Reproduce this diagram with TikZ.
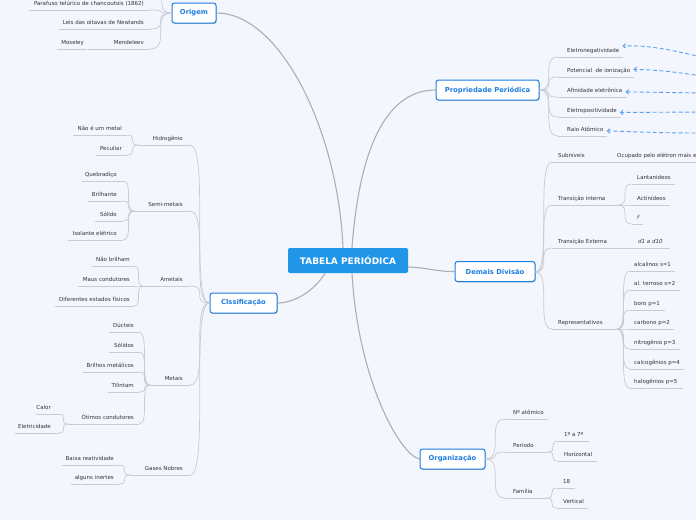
\documentclass[tikz,border=0pt]{standalone}
\usepackage{fontspec}
\setmainfont{DejaVu Sans}
\usetikzlibrary{calc,arrows.meta,shadows}
\definecolor{bgc}{RGB}{243,246,253}
\definecolor{edgeA}{RGB}{172,175,186}
\definecolor{edgeB}{RGB}{200,202,212}
\definecolor{blueA}{RGB}{30,125,225}
\definecolor{mainfill}{RGB}{33,150,232}
\definecolor{dashblue}{RGB}{90,160,240}
\definecolor{leaftext}{RGB}{50,50,58}
\tikzset{
  leaf/.style={inner sep=0pt,text=leaftext,font=\fontsize{5.5}{6.6}\selectfont},
  uline/.style={draw=edgeB,line width=0.7pt},
  e1/.style={draw=edgeA,line width=1.1pt},
  e2/.style={draw=edgeB,line width=0.7pt},
  cv/.style={to path={let \p1=(\tikztostart),\p2=(\tikztotarget) in .. controls (\x2,\y1) and (\x1,\y2) .. (\tikztotarget)}},
  lone/.style={draw=blueA,line width=1pt,fill=white,rounded corners=2.5pt,text=blueA,
    font=\bfseries\fontsize{6.8}{8}\selectfont,minimum height=20pt,inner xsep=2pt,
    drop shadow={shadow xshift=0.6pt,shadow yshift=-0.9pt,opacity=0.25,fill=black}},
  mainbox/.style={fill=mainfill,rounded corners=2pt,text=white,
    font=\bfseries\fontsize{9}{11}\selectfont,minimum width=120pt,minimum height=25pt},
  darrow/.style={draw=dashblue,line width=0.9pt,dash pattern=on 4pt off 2.5pt,-{Straight Barb[length=2.5pt,width=4.5pt]}}
}
\newcommand\mmR[6]{%
  \node[leaf,anchor=base west] (#1) at (#2,#3-4.5) {#6};
  \coordinate (#1-a) at (#4,#3);
  \coordinate (#1-b) at (#5,#3);
  \draw[uline] (#1-a) -- (#1-b);}
\newcommand\mmL[6]{%
  \node[leaf,anchor=base east] (#1) at (#2,#3-4.5) {#6};
  \coordinate (#1-a) at (#4,#3);
  \coordinate (#1-b) at (#5,#3);
  \draw[uline] (#1-a) -- (#1-b);}
\begin{document}
\begin{tikzpicture}[x=1pt,y=-1pt]
\useasboundingbox (0,0) rectangle (696,520);
\fill[bgc] (0,0) rectangle (696,520);
\begin{scope}
\clip (0,0) rectangle (696,520);

% ---------- main and first level nodes
\node[mainbox] (main) at (348,260.5) {TABELA PERIÓDICA};
\node[lone,minimum width=44pt] (og) at (194,13) {Origem};
\node[lone,minimum width=103pt] (pp) at (487.5,90) {Propriedade Periódica};
\node[lone,minimum width=80pt] (dd) at (495,271.5) {Demais Divisão};
\node[lone,minimum width=65pt] (org) at (452.5,459) {Organização};
\node[lone,minimum width=67pt] (cl) at (243.5,303) {Clssificação};

% ---------- first level connectors
\draw[e1] ([xshift=-5pt]main.north) .. controls (338,130) and (280,13) .. (og.east);
\draw[e1] ([xshift=4pt]main.north) .. controls (360,140) and (390,90) .. (pp.west);
\draw[e1] ([yshift=-6.5pt]main.east) .. controls (430,268) and (435,271.5) .. (dd.west);
\draw[e1] ([xshift=4pt]main.south) .. controls (358,380) and (400,455) .. (org.west);
\draw[e1] ([xshift=-23pt]main.south) .. controls (315,290) and (295,303) .. (cl.east);

% ---------- Origem
\mmL{og1}{144}{10}{29}{150}{Parafuso telúrico de chancoutois (1862)}
\mmL{og2}{144}{29}{59}{150}{Leis das oitavas de Newlands}
\mmL{og3}{144}{49}{88}{150}{Mendeleev}
\mmL{og3a}{84}{49}{57}{87}{Moseley}
\coordinate (ogup) at (152,-14);
\foreach \c in {og1-b,og2-b,og3-b,ogup} \draw[e2] (og.west) to[cv] (\c);

% ---------- Propriedade Periódica
\mmR{pe1}{567}{57}{558}{623}{Eletronegatividade}
\mmR{pe2}{567}{77}{558}{634}{Potencial\ \ de ionização}
\mmR{pe3}{567}{97}{558}{627}{Afinidade eletrônica}
\mmR{pe4}{567}{117}{558}{621}{Eletropositividade}
\mmR{pe5}{567}{136}{558}{607}{Raio Atômico}
\foreach \c in {pe1-a,pe2-a,pe3-a,pe4-a,pe5-a} \draw[e2] (pp.east) to[cv] (\c);
\coordinate (s1) at (702,57);
\coordinate (s2) at (702,76);
\coordinate (s3) at (702,93);
\coordinate (s4) at (702,112);
\coordinate (s5) at (702,133);
\draw[darrow] (s1) .. controls (670,50) and (650,45) .. ([xshift=3pt,yshift=5pt]pe1.east);
\draw[darrow] (s2) .. controls (675,72) and (660,70) .. ([xshift=3pt,yshift=1.5pt]pe2.east);
\draw[darrow] (s3) -- ([xshift=3pt,yshift=-1.5pt]pe3.east);
\draw[darrow] (s4) -- ([xshift=3pt,yshift=-1.5pt]pe4.east);
\draw[darrow] (s5) .. controls (660,133) and (640,132) .. ([xshift=3pt,yshift=-1.5pt]pe5.east);

% ---------- Demais Divisão
\mmR{dd1}{558}{162}{552}{603}{Subníveis}
\mmR{dd1a}{617}{162}{603}{720}{Ocupado pelo elétron mais e}
\mmR{dd2}{558}{205}{552}{618}{Transição interna}
\mmR{dd2a}{637}{184}{632}{675}{Lantanídeos}
\mmR{dd2b}{637}{205}{632}{670}{Actinídeos}
\mmR{dd2c}{637}{224}{632}{643}{\itshape f}
\mmR{dd3}{558}{248}{552}{622}{Transição Externa}
\mmR{dd3a}{638}{248}{622}{670}{\itshape d1 a d10}
\mmR{dd4}{558}{329}{552}{617}{Representativos}
\mmR{rp1}{634}{271}{630}{675}{alcalinos s=1}
\mmR{rp2}{634}{290}{630}{680}{al. terroso s=2}
\mmR{rp3}{634}{310}{630}{665}{boro p=1}
\mmR{rp4}{634}{329}{630}{674}{carbono p=2}
\mmR{rp5}{634}{349}{630}{680}{nitrogênio p=3}
\mmR{rp6}{634}{369}{630}{684}{calcogênios p=4}
\mmR{rp7}{634}{388}{630}{683}{halogênios p=5}
\foreach \c in {dd1-a,dd2-a,dd3-a,dd4-a} \draw[e2] ([yshift=-0.5pt]dd.east) to[cv] (\c);
\draw[e2] (dd1-b) -- (dd1a-a);
\draw[e2] (dd3-b) -- (dd3a-a);
\foreach \c in {dd2a-a,dd2b-a,dd2c-a} \draw[e2] (dd2-b) to[cv] (\c);
\foreach \c in {rp1-a,rp2-a,rp3-a,rp4-a,rp5-a,rp6-a,rp7-a} \draw[e2] (dd4-b) to[cv] (\c);

% ---------- Organização
\mmR{or1}{513}{419}{505}{548}{Nº atômico}
\mmR{or2}{513}{452}{505}{548}{Período}
\mmR{or2a}{564}{441}{558}{589}{1º a 7º}
\mmR{or2b}{564}{461}{558}{597}{Horizontal}
\mmR{or3}{513}{498}{505}{547}{Família}
\mmR{or3a}{563}{488}{557}{575}{18}
\mmR{or3b}{563}{508}{557}{588}{Vertical}
\foreach \c in {or1-a,or2-a,or3-a} \draw[e2] (org.east) to[cv] (\c);
\foreach \c in {or2a-a,or2b-a} \draw[e2] (or2-b) to[cv] (\c);
\foreach \c in {or3a-a,or3b-a} \draw[e2] (or3-b) to[cv] (\c);

% ---------- Clssificação
\mmL{cl1}{183}{145}{138}{190}{Hidrogênio}
\mmL{cl1a}{122}{135}{73}{127}{Não é um metal}
\mmL{cl1b}{122}{155}{96}{127}{Peculiar}
\mmL{cl2}{183}{211}{134}{190}{Semi-metais}
\mmL{cl2a}{117}{181}{82}{123}{Quebradiço}
\mmL{cl2b}{117}{201}{88}{123}{Brilhante}
\mmL{cl2c}{117}{221}{95}{123}{Sólido}
\mmL{cl2d}{117}{240}{68}{123}{Isolante elétrico}
\mmL{cl3}{183}{286}{143}{190}{Ametais}
\mmL{cl3a}{130}{266}{92}{134}{Não brilham}
\mmL{cl3b}{130}{286}{78}{134}{Maus condutores}
\mmL{cl3c}{130}{306}{55}{134}{Diferentes estados físicos}
\mmL{cl4}{183}{385}{150}{190}{Metais}
\mmL{cl4a}{134}{332}{109}{139}{Dúcteis}
\mmL{cl4b}{134}{352}{109}{139}{Sólidos}
\mmL{cl4c}{134}{372}{83}{139}{Brilhos metálicos}
\mmL{cl4d}{134}{392}{108}{139}{Tilintam}
\mmL{cl4e}{134}{424}{68}{139}{Ótimos condutores}
\mmL{cl4f}{51}{414}{36}{59}{Calor}
\mmL{cl4g}{51}{433}{15}{59}{Eletricidade}
\mmL{cl5}{183}{475}{130}{190}{Gases Nobres}
\mmL{cl5a}{114}{465}{62}{119}{Baixa reatividade}
\mmL{cl5b}{114}{484}{71}{119}{alguns inertes}
\foreach \c in {cl1-b,cl2-b,cl3-b,cl4-b,cl5-b} \draw[e2] (cl.west) to[cv] (\c);
\foreach \c in {cl1a-b,cl1b-b} \draw[e2] (cl1-a) to[cv] (\c);
\foreach \c in {cl2a-b,cl2b-b,cl2c-b,cl2d-b} \draw[e2] (cl2-a) to[cv] (\c);
\foreach \c in {cl3a-b,cl3b-b,cl3c-b} \draw[e2] (cl3-a) to[cv] (\c);
\foreach \c in {cl4a-b,cl4b-b,cl4c-b,cl4d-b,cl4e-b} \draw[e2] (cl4-a) to[cv] (\c);
\foreach \c in {cl4f-b,cl4g-b} \draw[e2] (cl4e-a) to[cv] (\c);
\foreach \c in {cl5a-b,cl5b-b} \draw[e2] (cl5-a) to[cv] (\c);
\end{scope}
\end{tikzpicture}
\end{document}
